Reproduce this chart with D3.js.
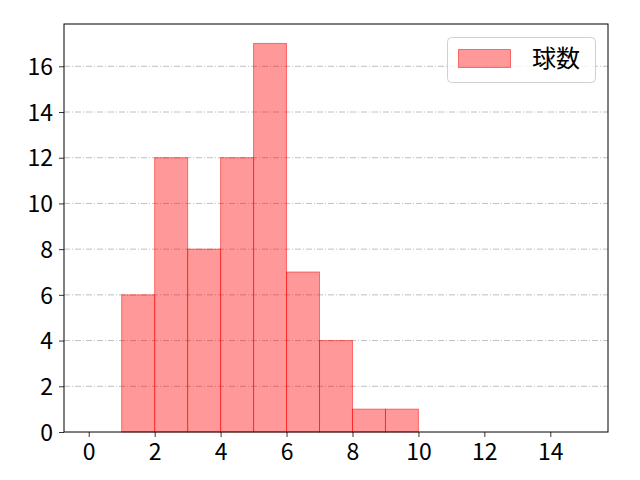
<!DOCTYPE html>
<html><head><meta charset="utf-8">
<script src="https://cdn.jsdelivr.net/npm/d3@7"></script>
<style>body{margin:0;background:#fff}svg text{font-family:"Noto Sans CJK JP","DejaVu Sans",sans-serif}</style>
</head><body>
<svg id="c" width="640" height="480"></svg>
<script>
const binStarts = [1,2,3,4,5,6,7,8,9];
const counts = [6,12,8,12,17,7,4,1,1];
const binWidth = 1;
const xTicks = [0,2,4,6,8,10,12,14];
const yTicks = [0,2,4,6,8,10,12,14,16];
const legendLabel = "球数";

const svg = d3.select("#c");
const L=64,R=608,T=24,B=432;
const x = d3.scaleLinear().domain([-0.75,15.75]).range([L,R]);
const y = d3.scaleLinear().domain([0,17*1.05]).range([B,T]);

// grid
svg.append("g").selectAll("line").data(yTicks.filter(d=>d>0)).join("line")
  .attr("x1",L).attr("x2",R).attr("y1",d=>y(d)).attr("y2",d=>y(d))
  .attr("stroke","#b0b0b0").attr("stroke-width",0.8).attr("stroke-dasharray","6,2,1,2");

// bars
svg.append("g").selectAll("rect").data(binStarts.map((s,i)=>({s,c:counts[i]}))).join("rect")
  .attr("x",d=>x(d.s)).attr("width",d=>x(d.s+binWidth)-x(d.s))
  .attr("y",d=>y(d.c)).attr("height",d=>y(0)-y(d.c))
  .attr("fill","rgba(255,0,0,0.4)").attr("stroke","rgba(255,0,0,0.5)").attr("stroke-width",1);

// axes
const xa = svg.append("g").attr("transform",`translate(0,${B})`)
  .call(d3.axisBottom(x).tickValues(xTicks).tickSize(5).tickPadding(5).tickFormat(d3.format("d")));
const ya = svg.append("g").attr("transform",`translate(${L},0)`)
  .call(d3.axisLeft(y).tickValues(yTicks).tickSize(5).tickPadding(6).tickFormat(d3.format("d")));
[xa,ya].forEach(a=>{a.select(".domain").remove();a.selectAll("line").attr("stroke","#000").attr("stroke-width",0.8);
  a.selectAll("text").attr("font-size",23).attr("fill","#000");});
xa.selectAll("text").attr("dy","0.78em");
ya.selectAll("text").attr("dy","0.36em");

svg.append("rect").attr("x",L).attr("y",T).attr("width",R-L).attr("height",B-T)
  .attr("fill","none").attr("stroke","#000").attr("stroke-width",1);

// legend
const lg = svg.append("g");
lg.append("rect").attr("x",447.5).attr("y",37.5).attr("width",148).attr("height",45).attr("rx",4)
  .attr("fill","rgba(255,255,255,0.8)").attr("stroke","#d0d0d0").attr("stroke-width",1);
lg.append("rect").attr("x",458.5).attr("y",49.5).attr("width",52).attr("height",18)
  .attr("fill","rgba(255,0,0,0.4)").attr("stroke","rgba(255,0,0,0.5)");
lg.append("text").attr("x",532).attr("y",67).attr("font-size",24).attr("fill","#000").text(legendLabel);
</script>
</body></html>
